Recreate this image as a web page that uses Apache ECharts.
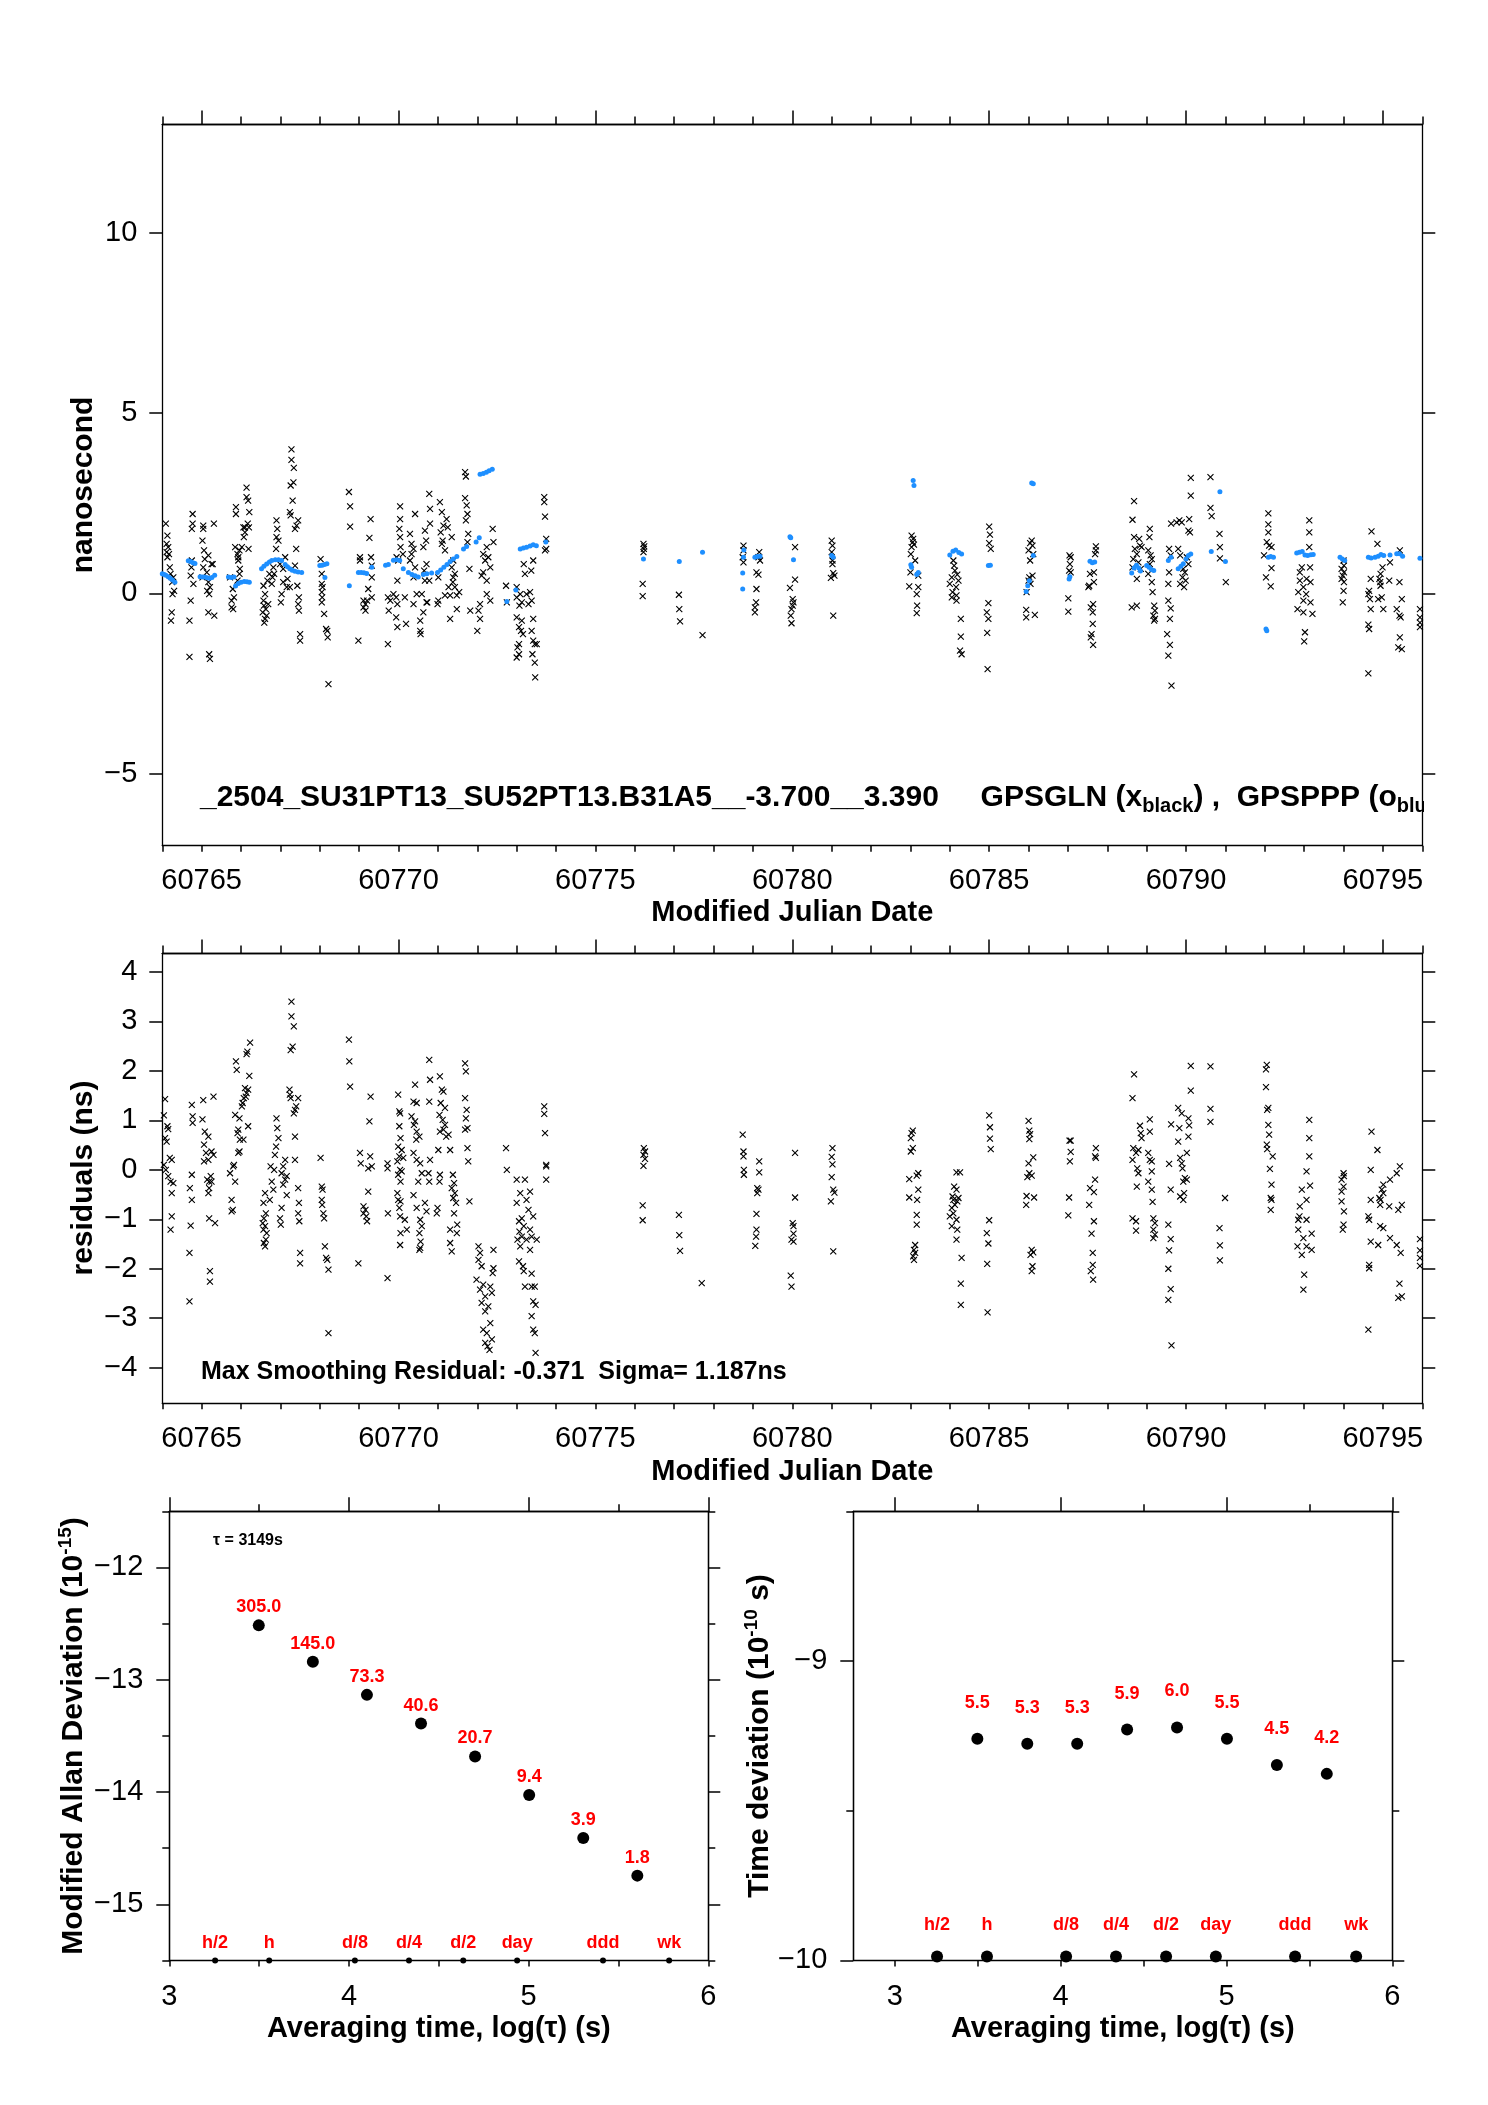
<!DOCTYPE html>
<html><head><meta charset="utf-8">
<script src="https://cdn.jsdelivr.net/npm/echarts@6/dist/echarts.min.js"></script>
<style>html,body{margin:0;padding:0;background:#fff}#c{width:1488px;height:2105px}</style>
</head><body><div id="c"></div>
<script>
// ---------------- DATA ----------------
const mjdLabels = [60765, 60770, 60775, 60780, 60785, 60790, 60795];
const topYLabels = [-5, 0, 5, 10];
const resYLabels = [-4, -3, -2, -1, 0, 1, 2, 3, 4];
const logTauLabels = [3, 4, 5, 6];
const adevYLabels = [-15, -14, -13, -12];
const tdevYLabels = [-10, -9];

// GPSGLN (black x) - nanosecond
const glnTop = [
[60764.09,1.93],[60764.13,1.60],[60764.11,1.37],[60764.15,1.28],[60764.11,1.14],[60764.17,1.09],[60764.13,1.00],[60764.19,0.72],[60764.21,0.54],[60764.28,0.44],[60764.25,0.31],[60764.30,0.07],[60764.26,-0.02],[60764.24,-0.53],[60764.22,-0.76],
[60764.77,2.20],[60764.77,1.93],[60764.75,1.79],[60764.75,0.91],[60764.74,0.72],[60764.72,0.49],[60764.79,0.26],[60764.72,-0.20],[60764.69,-0.76],[60764.69,-1.76],
[60765.04,1.88],[60765.04,1.79],[60765.02,1.46],[60765.06,1.19],[60765.17,1.05],[60765.08,0.95],[60765.25,0.81],[60765.04,0.72],[60765.13,0.58],[60765.02,0.44],[60765.17,0.31],[60765.21,0.17],[60765.14,0.07],[60765.19,-0.02],[60765.17,-0.53],[60765.19,-1.69],[60765.21,-1.82],[60765.31,1.93],[60765.28,0.81],[60765.32,-0.62],
[60765.76,-0.20],[60765.76,-0.39],[60765.72,0.44],[60765.79,0.12],[60765.87,2.39],[60765.87,2.20],[60765.85,1.28],[60765.91,1.09],[60765.93,0.91],[60765.82,-0.11],[60765.80,-0.44],[60765.96,1.19],[60765.93,1.00],[60765.97,0.68],[60765.96,0.54],[60765.91,0.35],[60766.06,1.83],[60766.10,1.69],[60766.07,1.56],[60766.14,2.93],[60766.14,2.67],[60766.18,2.57],[60766.21,2.25],[60766.17,1.93],[60766.20,1.83],[60766.19,1.23],[60766.10,1.83],[60766.02,1.28],
[60766.57,0.21],[60766.61,-0.02],[60766.57,-0.20],[60766.58,-0.34],[60766.63,-0.44],[60766.55,-0.53],[60766.65,-0.62],[60766.61,-0.71],[60766.59,-0.81],[60766.69,-0.30],[60766.67,0.35],[60766.72,0.54],
[60766.90,2.02],[60766.92,1.79],[60766.90,1.56],[60766.95,1.46],[60766.89,1.23],[60767.12,1.00],[60766.82,0.72],[60766.84,0.54],[60766.80,0.44],[60767.07,0.31],[60767.16,0.17],[60767.03,-0.02],[60767.01,-0.25],[60767.18,0.40],[60767.07,0.68],[60766.99,0.81],[60766.78,0.26],
[60767.28,3.99],[60767.28,3.70],[60767.34,3.48],[60767.33,3.08],[60767.26,2.99],[60767.31,2.57],[60767.24,2.25],[60767.26,2.16],[60767.37,1.79],[60767.37,0.77],[60767.24,0.17],
[60767.45,2.02],[60767.41,1.88],[60767.40,1.23],[60767.43,0.21],[60767.47,-0.11],[60767.45,-0.30],[60767.47,-0.48],[60767.50,-1.13],[60767.50,-1.31],
[60768.02,0.95],[60768.05,0.54],[60768.05,0.26],[60768.07,0.17],[60768.05,0.03],[60768.06,-0.11],[60768.05,-0.25],[60768.11,-0.57],[60768.16,-0.99],[60768.19,-1.04],[60768.20,-1.22],[60768.22,-2.52],
[60768.74,2.81],[60768.77,2.41],[60768.77,1.85],[60768.98,-1.31],[60769.29,2.06],[60769.26,1.54],[60769.02,1.00],[60769.30,1.00],[60769.02,0.91],[60769.32,0.77],[60769.32,0.44],[60769.23,0.12],[60769.32,-0.11],[60769.11,-0.20],[60769.16,-0.30],[60769.11,-0.39],[60769.16,-0.48],[60769.20,-0.20],
[60769.73,-0.11],[60769.75,-0.48],[60769.73,-1.41],[60770.04,2.41],[60770.04,2.06],[60770.02,1.79],[60770.04,1.56],[60770.05,1.28],[60770.11,1.09],[60769.95,1.00],[60769.99,0.91],[60769.97,0.35],[60769.87,-0.02],[60769.94,-0.11],[60769.79,-0.20],[60769.97,-0.30],[60769.94,-0.67],[60769.97,-0.94],[60770.16,-0.11],[60770.19,-0.85],
[60770.42,2.20],[60770.29,1.65],[60770.33,1.37],[60770.38,1.23],[60770.33,1.09],[60770.29,0.91],[60770.42,0.72],[60770.38,0.44],[60770.38,-0.30],[60770.55,-0.76],[60770.55,-1.04],[60770.56,-1.13],[60770.67,1.74],[60770.70,1.46],[60770.63,1.28],[60770.71,0.81],[60770.65,0.63],[60770.67,0.35],[60770.59,-0.02],[60770.71,-0.25],[60770.63,-0.53],[60770.46,-0.02],[60770.78,2.76],[60770.80,2.34],[60770.80,1.93],[60770.78,0.35],[60770.73,-0.25],
[60771.05,2.53],[60771.10,2.25],[60771.14,1.88],[60771.07,1.69],[60771.12,1.46],[60771.10,1.37],[60771.01,0.44],[60771.01,-0.20],[60770.99,-0.30],[60771.22,2.06],[60771.25,1.83],[60771.35,1.56],[60771.18,1.19],[60771.39,0.91],[60771.35,0.72],[60771.43,0.54],[60771.39,0.44],[60771.38,0.31],[60771.43,0.17],[60771.48,-0.06],[60771.27,0.17],[60771.31,-0.06],[60771.48,-0.44],[60771.31,-0.71],[60771.18,-0.06],[60771.54,0.03],
[60771.69,3.36],[60771.71,3.24],[60771.69,2.64],[60771.73,2.44],[60771.75,2.20],[60771.71,2.02],[60771.77,1.65],[60771.75,1.42],[60771.80,0.68],[60771.82,-0.48],[60772.39,1.79],[60772.41,1.42],[60772.24,1.28],[60772.15,1.09],[60772.28,1.00],[60772.20,0.91],[60772.33,0.72],[60772.15,0.58],[60772.11,0.49],[60772.24,0.35],[60772.33,-0.20],[60772.03,-0.48],[60772.07,-0.71],[60772.00,-1.04],[60772.07,-0.30],[60772.24,-0.02],
[60772.73,0.21],[60772.75,-0.25],
[60773.00,0.17],[60773.09,-0.02],[60773.00,-0.11],[60773.13,-0.25],[60773.07,-0.34],[60773.00,-0.67],[60773.13,-0.76],[60773.06,-0.94],[60773.11,-1.04],[60773.16,-1.13],[60773.06,-1.41],[60773.02,-1.50],[60773.06,-1.69],[60773.00,-1.78],[60773.21,0.54],[60773.25,-0.02],[60773.30,-0.30],[60773.18,0.81],[60773.42,0.91],[60773.37,0.63],[60773.34,0.03],[60773.38,-0.20],[60773.42,-0.71],[60773.38,-1.04],[60773.42,-1.31],[60773.46,-1.41],[60773.40,-1.69],[60773.46,-1.92],[60773.47,-2.33],[60773.51,-1.41],
[60773.70,2.67],[60773.70,2.53],[60773.72,2.13],[60773.75,1.51],[60773.75,1.23],[60773.72,1.19],
[60776.22,1.37],[60776.24,1.30],[60776.23,1.23],[60776.22,1.14],[60776.20,0.26],[60776.20,-0.08],
[60777.12,-0.04],[60777.13,-0.44],[60777.15,-0.78],[60777.72,-1.16],
[60778.76,1.32],[60778.76,1.19],[60778.74,1.00],[60778.76,0.86],
[60779.16,1.14],[60779.14,1.00],[60779.18,0.91],[60779.09,0.58],[60779.14,0.52],[60779.09,0.12],[60779.08,-0.25],[60779.05,-0.39],[60779.05,-0.53],
[60780.07,1.28],[60780.07,0.38],[60779.94,0.15],[60780.01,-0.16],[60780.03,-0.25],[60780.01,-0.34],[60779.98,-0.44],[60779.96,-0.62],[60779.98,-0.83],
[60781.00,1.46],[60781.02,1.32],[60781.00,1.14],[60781.02,0.91],[60781.02,0.81],[60781.04,0.56],[60781.07,0.49],[60780.98,0.43],[60781.04,-0.62],
[60783.03,1.60],[60783.07,1.51],[60783.06,1.42],[60783.09,1.35],[60783.03,1.28],[60783.01,1.09],[60783.12,0.91],[60783.00,0.58],[60783.20,0.49],[60782.97,0.19],[60783.20,0.17],[60783.16,-0.02],[60783.17,-0.34],[60783.16,-0.55],
[60784.09,0.91],[60784.11,0.77],[60784.13,0.63],[60784.19,0.52],[60784.05,0.44],[60784.22,0.35],[60784.00,0.26],[60784.16,0.17],[60784.07,0.03],[60784.17,-0.06],[60784.05,-0.11],[60784.17,-0.20],[60784.28,-0.71],[60784.28,-1.20],[60784.26,-1.59],[60784.30,-1.69],
[60785.00,1.85],[60785.02,1.63],[60785.00,1.39],[60785.04,1.23],[60784.98,-0.27],[60784.94,-0.53],[60784.98,-0.71],[60784.95,-1.10],[60784.96,-2.10],
[60786.08,1.46],[60786.04,1.39],[60786.10,1.32],[60786.00,1.19],[60786.12,1.09],[60786.04,0.91],[60786.10,0.49],[60786.02,0.44],[60786.00,0.35],[60786.05,0.26],[60785.95,0.03],[60785.94,-0.46],[60785.94,-0.67],[60786.16,-0.60],
[60787.04,1.05],[60787.07,1.00],[60787.05,0.81],[60787.03,0.63],[60787.07,0.58],[60787.01,-0.14],[60787.01,-0.51],
[60787.71,1.30],[60787.71,1.19],[60787.69,1.09],[60787.66,0.58],[60787.56,0.54],[60787.66,0.31],[60787.54,0.21],[60787.52,0.17],[60787.64,-0.30],[60787.58,-0.39],[60787.63,-0.53],[60787.63,-0.85],[60787.60,-1.13],[60787.58,-1.22],[60787.64,-1.43],
[60788.68,2.56],[60788.64,2.04],[60788.68,1.56],[60788.81,1.51],[60788.83,1.32],[60788.70,1.23],[60788.87,1.28],[60788.75,1.09],[60788.66,0.95],[60788.79,0.86],[60788.64,0.72],[60788.85,0.68],[60788.75,0.40],[60788.62,-0.39],[60788.75,-0.34],
[60789.08,1.79],[60789.07,1.56],[60789.04,1.19],[60789.10,1.05],[60789.13,0.95],[60789.08,0.81],[60789.04,0.54],[60789.13,0.31],[60789.15,0.03],[60789.19,-0.34],[60789.21,-0.48],[60789.17,-0.62],[60789.21,-0.71],[60789.19,-0.76],
[60789.62,1.93],[60789.57,1.23],[60789.61,1.05],[60789.57,0.58],[60789.55,0.26],[60789.55,-0.20],[60789.61,-0.42],[60789.59,-0.71],[60789.52,-1.13],[60789.59,-1.43],[60789.55,-1.73],[60789.63,-2.56],
[60790.12,3.20],[60790.12,2.71],[60790.08,2.06],[60789.83,2.02],[60789.76,1.97],[60789.89,1.97],[60790.06,1.74],[60790.10,1.69],[60789.80,1.23],[60789.85,1.05],[60790.02,1.00],[60790.06,0.81],[60789.93,0.68],[60789.97,0.58],[60789.91,0.44],[60789.99,0.35],[60789.85,0.26],[60789.95,0.17],
[60790.62,3.22],[60790.62,2.37],[60790.65,2.14],[60790.85,1.65],[60790.86,1.28],[60790.86,0.97],[60791.01,0.31],
[60792.09,2.22],[60792.09,1.91],[60792.09,1.69],[60792.05,1.42],[60792.11,1.32],[60792.17,1.28],[60791.98,1.05],[60792.17,0.70],[60792.03,0.44],[60792.15,0.19],
[60793.13,2.02],[60793.13,1.69],[60793.13,1.28],[60792.94,0.72],[60793.15,0.72],[60792.89,0.58],[60793.06,0.40],[60792.89,0.35],[60793.16,0.31],[60792.98,0.17],[60792.85,0.03],[60793.05,-0.02],[60792.98,-0.20],[60793.16,-0.25],[60792.83,-0.44],[60792.98,-0.53],[60793.21,-0.57],[60793.02,-1.08],[60793.00,-1.33],
[60794.00,0.91],[60794.01,0.77],[60793.95,0.68],[60794.01,0.58],[60793.98,0.49],[60793.95,0.40],[60794.01,0.31],[60794.00,0.07],[60793.98,-0.25],
[60794.71,1.72],[60794.86,1.37],[60794.69,0.40],[60794.65,0.07],[60794.63,-0.02],[60794.67,-0.16],[60794.69,-0.44],[60794.63,-0.87],[60794.65,-0.99],[60794.63,-2.22],[60794.99,0.72],[60794.94,0.54],[60794.91,0.40],[60794.93,0.31],[60794.94,0.21],[60794.97,-0.11],[60795.01,-0.44],[60794.88,-0.16],
[60795.43,1.19],[60795.18,0.86],[60795.16,0.35],[60795.42,0.31],[60795.48,-0.16],[60795.35,-0.44],[60795.42,-0.62],[60795.45,-0.67],[60795.43,-1.22],[60795.39,-1.50],[60795.48,-1.55],
[60795.94,-0.44],[60795.94,-0.67],[60795.94,-0.81],[60795.94,-0.94]
];

// GPSPPP (blue o) - nanosecond
const pppTop = [
[60764.00,0.54],[60764.05,0.52],[60764.09,0.50],[60764.15,0.46],[60764.20,0.42],[60764.26,0.37],[60764.32,0.31],
[60764.66,0.90],[60764.72,0.88],[60764.78,0.85],[60764.83,0.83],
[60764.96,0.46],[60765.02,0.45],[60765.08,0.45],[60765.14,0.43],[60765.20,0.42],[60765.26,0.44],[60765.33,0.50],
[60765.68,0.45],[60765.75,0.44],[60765.82,0.45],[60765.86,0.20],[60765.93,0.27],[60766.00,0.31],[60766.08,0.33],[60766.15,0.32],[60766.21,0.31],
[60766.52,0.68],[60766.58,0.75],[60766.65,0.81],[60766.72,0.87],[60766.78,0.91],[60766.87,0.93],[60766.95,0.93],[60767.03,0.91],[60767.12,0.80],[60767.18,0.74],[60767.24,0.68],[60767.30,0.64],[60767.37,0.61],[60767.45,0.59],[60767.54,0.58],
[60768.00,0.77],[60768.06,0.78],[60768.12,0.80],[60768.18,0.82],[60768.13,0.44],
[60768.75,0.21],[60768.98,0.58],[60769.05,0.58],[60769.12,0.57],[60769.19,0.55],[60769.32,0.72],
[60769.67,0.78],[60769.74,0.80],[60769.87,0.92],[60769.95,0.93],[60770.03,0.91],[60770.12,0.68],[60770.25,0.58],[60770.34,0.52],[60770.42,0.49],[60770.50,0.45],[60770.63,0.52],[60770.72,0.54],[60770.84,0.56],
[60770.99,0.58],[60771.07,0.65],[60771.15,0.72],[60771.23,0.80],[60771.31,0.88],[60771.39,0.95],[60771.48,1.02],
[60771.65,1.23],[60771.73,1.30],[60771.97,1.42],[60772.05,1.54],[60772.07,3.30],[60772.15,3.32],[60772.23,3.36],[60772.30,3.40],[60772.38,3.44],
[60772.75,-0.23],[60772.98,0.09],[60773.09,1.23],[60773.17,1.26],[60773.25,1.28],[60773.34,1.31],[60773.42,1.35],[60773.50,1.32],[60773.74,1.42],
[60776.22,0.95],[60777.13,0.88],[60777.72,1.14],[60778.77,1.20],[60778.76,1.00],[60778.74,0.56],[60778.74,0.12],
[60779.05,1.00],[60779.11,1.02],[60779.18,1.03],[60779.94,1.57],[60779.96,1.54],[60780.03,0.93],[60781.00,1.05],[60781.04,1.00],
[60783.07,3.13],[60783.09,2.99],[60783.01,0.79],[60783.03,0.72],[60783.16,0.52],[60783.20,0.58],
[60784.00,1.06],[60784.08,1.17],[60784.15,1.20],[60784.23,1.13],[60784.30,1.09],[60784.98,0.77],[60785.03,0.78],
[60786.08,3.06],[60786.12,3.04],[60786.12,1.05],[60785.94,0.05],[60785.98,0.21],[60786.02,0.35],
[60787.03,0.40],[60787.05,0.46],[60787.56,0.89],[60787.62,0.85],[60787.68,0.87],
[60788.62,0.56],[60788.68,0.70],[60788.74,0.78],[60788.80,0.70],[60788.84,0.62],[60789.00,0.77],[60789.06,0.72],[60789.12,0.66],[60789.18,0.63],
[60789.55,0.91],[60789.62,1.00],[60789.80,0.68],[60789.87,0.75],[60789.93,0.82],[60790.00,0.95],[60790.06,1.05],[60790.12,1.09],
[60790.86,2.82],[60790.64,1.16],[60791.00,0.88],[60792.03,-0.99],[60792.05,-1.04],[60792.09,1.00],[60792.15,1.02],[60792.22,1.00],
[60792.81,1.12],[60792.88,1.14],[60792.95,1.16],[60793.02,1.06],[60793.09,1.05],[60793.17,1.07],[60793.23,1.08],
[60793.91,1.00],[60793.97,0.95],[60794.03,0.91],
[60794.63,1.00],[60794.70,0.98],[60794.80,1.00],[60794.88,1.03],[60794.95,1.08],[60795.02,1.05],[60795.18,1.06],[60795.35,1.10],[60795.42,1.10],[60795.50,1.03],[60795.94,0.97]
];

// residuals (ns)
const residuals = [
[60764.07,1.43],[60764.04,1.10],[60764.13,0.88],[60764.15,0.82],[60764.07,0.64],[60764.11,0.57],[60764.19,0.24],[60764.24,0.20],[60764.04,0.10],[60764.09,0.00],[60764.15,-0.13],[60764.21,-0.24],[60764.28,-0.27],[60764.24,-0.47],[60764.24,-0.94],[60764.21,-1.21],
[60764.75,1.31],[60764.77,1.08],[60764.77,0.95],[60764.75,-0.10],[60764.70,-0.37],[60764.75,-0.61],[60764.72,-1.13],[60764.69,-1.68],[60764.69,-2.66],
[60765.04,1.41],[60765.02,1.02],[60765.08,0.77],[60765.06,0.51],[60765.17,0.67],[60765.11,0.34],[60765.17,0.20],[60765.06,0.17],[60765.14,-0.20],[60765.19,-0.24],[60765.17,-0.47],[60765.19,-0.98],[60765.34,-1.08],[60765.21,-2.05],[60765.21,-2.26],[60765.30,1.48],[60765.25,0.37],[60765.30,0.30],[60765.23,-0.13],[60765.25,-0.24],[60765.19,-0.37],
[60765.87,2.19],[60765.89,2.02],[60766.23,2.57],[60766.16,2.39],[60766.14,2.34],[60766.21,1.90],[60766.10,1.65],[60766.18,1.62],[60766.14,1.55],[60766.12,1.48],[60766.07,1.45],[60766.04,1.35],[60766.02,1.28],[60765.85,1.11],[60765.96,1.04],[60765.93,0.81],[60765.91,0.74],[60765.97,0.61],[60765.96,0.37],[60765.93,0.34],[60765.82,0.10],[60765.80,0.07],[60765.72,-0.07],[60765.85,-0.24],[60765.76,-0.61],[60765.79,-0.81],[60765.76,-0.84],[60766.18,0.88],[60766.06,0.61],
[60766.61,-0.47],[60766.57,-0.67],[60766.63,-0.88],[60766.58,-0.98],[60766.55,-1.08],[60766.61,-1.14],[60766.57,-1.21],[60766.65,-1.28],[60766.63,-1.41],[60766.58,-1.48],[60766.61,-1.55],
[60766.90,1.04],[60766.92,0.84],[60766.95,0.64],[60766.89,0.47],[60766.86,0.30],[60767.12,0.20],[60766.75,0.07],[60766.84,0.00],[60767.03,-0.07],[60766.78,-0.24],[60767.07,-0.30],[60766.82,-0.40],[60767.16,-0.51],[60766.73,-0.61],[60767.03,-0.77],[60766.99,-0.98],[60767.01,-1.11],[60767.12,-0.20],[60767.07,0.07],[60767.16,-0.13],
[60767.28,3.40],[60767.28,3.10],[60767.34,2.90],[60767.31,2.49],[60767.26,2.42],[60767.23,1.62],[60767.24,1.52],[60767.26,1.45],[60767.40,1.28],[60767.37,1.21],[60767.34,1.14],[60767.37,0.67],[60767.37,0.20],[60767.45,1.45],[60767.45,-0.37],[60767.47,-0.67],[60767.45,-0.88],[60767.48,-1.04],[60767.50,-1.68],[60767.50,-1.89],
[60768.02,0.24],[60768.05,-0.34],[60768.07,-0.40],[60768.05,-0.61],[60768.06,-0.71],[60768.09,-0.88],[60768.11,-0.98],[60768.13,-1.55],[60768.16,-1.78],[60768.19,-1.82],[60768.22,-2.02],[60768.22,-3.30],
[60768.74,2.63],[60768.75,2.19],[60768.77,1.68],[60768.98,-1.89],[60769.02,0.34],[60769.04,0.13],[60769.28,0.27],[60769.32,0.07],[60769.23,0.03],[60769.23,-0.44],[60769.11,-0.74],[60769.16,-0.81],[60769.11,-0.88],[60769.18,-0.94],[60769.20,-1.04],[60769.29,1.48],[60769.26,0.98],
[60769.72,0.13],[60769.72,0.03],[60769.73,-0.88],[60769.72,-2.19],[60769.99,1.52],[60770.02,1.18],[60770.04,1.14],[60770.02,0.88],[60770.05,0.64],[60769.99,0.47],[60770.08,0.40],[60770.02,0.27],[60770.12,0.24],[60769.97,0.17],[60770.04,0.00],[60770.08,-0.03],[60769.99,-0.10],[60770.05,-0.24],[60769.97,-0.47],[60769.99,-0.61],[60770.05,-0.64],[60770.02,-0.77],[60770.04,-0.94],[60770.05,-1.28],[60770.04,-1.52],[60770.21,-1.21],[60770.16,-1.01],
[60770.42,1.72],[60770.38,1.38],[60770.46,1.35],[60770.33,1.08],[60770.42,0.98],[60770.39,0.91],[60770.46,0.77],[60770.53,0.67],[60770.45,0.61],[60770.38,0.34],[60770.46,0.20],[60770.55,0.13],[60770.59,-0.07],[60770.50,-0.24],[60770.38,-0.51],[60770.67,-0.67],[60770.46,-0.77],[60770.55,-1.01],[60770.59,-1.14],[60770.53,-1.28],[60770.56,-1.45],[60770.55,-1.58],[60770.53,-1.62],[60770.78,2.22],[60770.80,1.82],[60770.78,1.38],[60770.80,0.20],[60770.76,-0.07],[60770.78,-0.24],[60770.71,-0.84],
[60771.05,1.89],[60771.10,1.62],[60771.14,1.58],[60771.07,1.35],[60771.18,1.25],[60771.04,1.11],[60771.12,1.01],[60771.18,0.91],[60771.14,0.81],[60771.05,0.77],[60771.21,0.67],[60771.01,0.40],[60771.05,-0.10],[60771.04,-0.24],[60770.99,-0.77],[60770.97,-0.88],[60771.27,0.71],[60771.31,0.40],[60771.38,-0.10],[60771.41,-0.27],[60771.35,-0.37],[60771.43,-0.47],[60771.39,-0.57],[60771.46,-0.67],[60771.41,-0.88],[60771.49,-1.11],[60771.31,-1.21],[60771.48,-1.28],[60771.31,-1.48],[60771.35,-1.65],
[60771.69,2.15],[60771.71,1.99],[60771.69,1.45],[60771.73,1.21],[60771.71,1.04],[60771.75,0.84],[60771.69,0.81],[60771.75,0.44],[60771.77,0.17],[60771.80,-0.64],
[60772.03,-1.55],[60772.07,-1.68],[60772.03,-1.82],[60772.11,-1.95],[60771.98,-2.22],[60772.15,-2.32],[60772.07,-2.42],[60772.20,-2.56],[60772.11,-2.69],[60772.28,-2.76],[60772.20,-2.86],[60772.33,-3.10],[60772.15,-3.23],[60772.24,-3.30],[60772.37,-3.43],[60772.20,-3.50],[60772.26,-3.57],[60772.31,-3.64],[60772.41,-1.62],[60772.41,-1.99],[60772.39,-2.09],[60772.33,-2.36],[60772.37,-2.49],
[60772.73,0.44],[60772.75,0.00],
[60773.00,-0.20],[60773.09,-0.47],[60773.00,-0.67],[60773.13,-0.98],[60773.06,-1.04],[60773.18,-1.14],[60773.07,-1.25],[60773.13,-1.35],[60773.02,-1.41],[60773.09,-1.55],[60773.06,-1.85],[60773.16,-1.95],[60773.18,-2.05],[60773.21,-2.36],[60773.38,-2.36],[60773.42,-2.66],[60773.48,-2.73],[60773.38,-2.96],[60773.42,-3.23],[60773.46,-3.30],[60773.48,-3.70],[60773.34,-1.62],[60773.38,-2.10],[60773.46,-2.36],[60773.30,-0.81],[60773.25,-0.61],[60773.21,-0.20],[60773.34,-0.44],[60773.42,-0.94],[60773.34,-1.21],[60773.25,-1.41],[60773.38,-1.35],[60773.51,-1.41],
[60773.70,1.28],[60773.70,1.13],[60773.72,0.74],[60773.75,0.10],[60773.75,0.07],[60773.75,-0.20],
[60776.23,0.44],[60776.26,0.37],[60776.22,0.30],[60776.26,0.22],[60776.22,0.08],[60776.20,-0.72],[60776.20,-1.02],
[60777.12,-0.91],[60777.13,-1.32],[60777.15,-1.64],[60777.70,-2.29],
[60778.74,0.71],[60778.76,0.37],[60778.76,0.27],[60778.77,0.00],[60778.77,-0.10],[60779.16,0.17],[60779.16,-0.05],[60779.11,-0.37],[60779.14,-0.40],[60779.11,-0.47],[60779.09,-0.89],[60779.09,-1.21],[60779.08,-1.35],[60779.06,-1.54],
[60780.07,0.34],[60780.07,-0.56],[60780.01,-1.08],[60780.03,-1.14],[60780.03,-1.29],[60779.98,-1.41],[60780.03,-1.45],[60779.96,-2.14],[60779.98,-2.36],
[60781.02,0.44],[60781.00,0.26],[60781.02,0.11],[60781.00,-0.15],[60781.04,-0.40],[60781.07,-0.46],[60780.98,-0.64],[60781.04,-1.65],
[60783.06,0.79],[60783.03,0.74],[60783.01,0.64],[60783.06,0.44],[60783.01,0.37],[60783.20,-0.07],[60783.16,-0.12],[60782.97,-0.19],[60783.20,-0.40],[60782.97,-0.56],[60783.17,-0.61],[60783.16,-0.91],[60783.16,-1.11],[60783.12,-1.52],[60783.09,-1.62],[60783.12,-1.68],[60783.07,-1.75],[60783.09,-1.82],
[60784.17,-0.05],[60784.26,-0.05],[60784.11,-0.34],[60784.17,-0.40],[60784.07,-0.54],[60784.22,-0.57],[60784.09,-0.61],[60784.19,-0.64],[60784.13,-0.71],[60784.05,-0.77],[60784.09,-0.88],[60784.00,-0.94],[60784.17,-1.01],[60784.05,-1.14],[60784.19,-1.21],[60784.17,-1.41],[60784.30,-1.78],[60784.28,-2.30],[60784.28,-2.73],
[60785.00,1.10],[60785.02,0.86],[60785.02,0.63],[60785.04,0.42],[60785.00,-1.02],[60784.94,-1.28],[60784.98,-1.49],[60784.95,-1.90],[60784.96,-2.88],
[60786.00,0.99],[60786.02,0.79],[60786.04,0.72],[60786.02,0.62],[60786.12,0.25],[60786.00,0.13],[60786.02,-0.07],[60786.08,-0.12],[60785.97,-0.15],[60785.95,-0.53],[60786.14,-0.56],[60785.94,-0.71],[60786.08,-1.62],[60786.12,-1.67],[60786.05,-1.72],[60786.10,-1.95],[60786.08,-2.05],
[60787.04,0.59],[60787.07,0.59],[60787.07,0.36],[60787.05,0.17],[60787.03,-0.56],[60787.01,-0.92],
[60787.71,0.44],[60787.69,0.27],[60787.71,0.24],[60787.69,-0.20],[60787.56,-0.37],[60787.66,-0.45],[60787.54,-0.71],[60787.66,-1.04],[60787.60,-1.29],[60787.63,-1.68],[60787.63,-1.92],[60787.58,-2.05],[60787.64,-2.22],
[60788.68,1.93],[60788.64,1.45],[60788.83,0.89],[60788.85,0.74],[60788.66,0.44],[60788.79,0.40],[60788.73,0.34],[60788.64,0.20],[60788.76,0.03],[60788.79,-0.07],[60788.75,-0.34],[60788.64,-0.98],[60788.73,-1.04],[60788.73,-1.23],
[60789.08,1.02],[60789.08,0.77],[60788.87,0.64],[60789.04,0.34],[60789.08,0.20],[60789.13,0.17],[60789.13,-0.03],[60789.04,-0.24],[60789.13,-0.40],[60789.15,-0.65],[60789.17,-0.98],[60789.21,-1.08],[60789.17,-1.21],[60789.21,-1.31],[60789.17,-1.38],
[60789.62,0.92],[60789.57,0.12],[60789.61,-0.40],[60789.55,-1.11],[60789.61,-1.40],[60789.57,-1.63],[60789.55,-2.00],[60789.61,-2.41],[60789.55,-2.63],[60789.63,-3.55],
[60790.12,2.10],[60790.12,1.60],[60789.80,1.25],[60789.89,1.14],[60790.06,1.04],[60790.08,0.90],[60789.83,0.84],[60790.06,0.67],[60789.80,0.57],[60790.02,0.34],[60789.85,0.24],[60789.89,0.13],[60789.91,0.03],[60789.97,-0.17],[60790.02,-0.20],[60789.93,-0.24],[60789.95,-0.47],[60789.85,-0.54],[60789.93,-0.61],
[60790.62,2.09],[60790.62,1.23],[60790.62,0.97],[60790.99,-0.57],[60790.85,-1.18],[60790.86,-1.53],[60790.86,-1.83],
[60792.05,2.12],[60792.03,2.03],[60792.03,1.67],[60792.09,1.25],[60792.06,1.21],[60792.09,0.91],[60792.11,0.71],[60792.05,0.51],[60792.06,0.42],[60792.20,0.27],[60792.13,0.02],[60792.17,-0.30],[60792.15,-0.57],[60792.17,-0.61],[60792.15,-0.81],
[60793.13,1.01],[60793.13,0.64],[60793.13,0.27],[60793.06,-0.03],[60793.15,-0.32],[60792.94,-0.40],[60793.06,-0.61],[60792.89,-0.74],[60792.88,-0.94],[60792.85,-1.01],[60793.06,-1.01],[60792.85,-1.21],[60793.19,-1.29],[60792.98,-1.38],[60792.83,-1.55],[60793.06,-1.55],[60793.19,-1.62],[60792.94,-1.72],[60793.00,-2.12],[60792.98,-2.42],
[60794.00,-0.07],[60794.01,-0.13],[60793.95,-0.20],[60794.00,-0.34],[60793.95,-0.44],[60793.95,-0.64],[60794.01,-0.84],[60794.00,-1.11],[60793.98,-1.21],
[60794.71,0.77],[60794.86,0.40],[60794.69,0.00],[60794.69,-0.61],[60794.63,-0.94],[60794.65,-1.01],[60794.69,-1.45],[60794.65,-1.92],[60794.65,-1.99],[60794.63,-3.23],
[60795.43,0.07],[60795.35,-0.07],[60795.18,-0.20],[60795.01,-0.30],[60794.97,-0.40],[60795.01,-0.47],[60794.91,-0.57],[60794.94,-0.61],[60794.93,-0.71],[60795.16,-0.74],[60795.39,-0.81],[60794.93,-1.14],[60795.01,-1.18],[60795.18,-1.38],[60795.35,-1.52],[60794.88,-1.52],[60795.45,-1.68],[60795.42,-2.30],[60795.39,-2.59],[60795.48,-2.56],[60795.48,-0.71],
[60795.94,-1.40],[60795.94,-1.63],[60795.94,-1.78],[60795.94,-1.94]
];

// Stability (log10 tau)
const logTau = [3.498, 3.799, 4.100, 4.401, 4.702, 5.003, 5.304, 5.605];
const adevY = [-12.516, -12.839, -13.135, -13.391, -13.684, -14.027, -14.409, -14.745];
const adevLbl = ['305.0', '145.0', '73.3', '40.6', '20.7', '9.4', '3.9', '1.8'];
const tdevY = [-9.260, -9.276, -9.276, -9.229, -9.222, -9.260, -9.347, -9.377];
const tdevLbl = ['5.5', '5.3', '5.3', '5.9', '6.0', '5.5', '4.5', '4.2'];
const markX = [3.255, 3.556, 4.033, 4.334, 4.636, 4.936, 5.414, 5.782];
const markLbl = ['h/2', 'h', 'd/8', 'd/4', 'd/2', 'day', 'ddd', 'wk'];
const markYadev = -15.5;
const markYtdev = -9.987;

// ---------------- CHART ----------------
const FONT = "'Liberation Sans', Arial, Helvetica, sans-serif";
const chart = echarts.init(document.getElementById('c'), null, {renderer: 'canvas'});
const minus = v => String(v).replace('-', '\u2212');
const range = (a, b, s) => { const r = []; for (let v = a; v <= b + 1e-9; v += s) r.push(+v.toFixed(4)); return r; };

function ax(kind, grid, pos, min, max, ticks, len, labels, margin) {
  return {
    type: 'value', gridIndex: grid, position: pos, min: min, max: max,
    splitLine: {show: false},
    axisLine: {show: true, onZero: false, lineStyle: {color: '#000', width: 1.3}},
    axisTick: {show: true, inside: false, length: len, customValues: ticks, lineStyle: {color: '#000', width: 1.5}},
    axisLabel: labels ? {show: true, customValues: labels, margin: margin, color: '#000',
      fontFamily: FONT, fontSize: 29, formatter: minus} : {show: false}
  };
}
const days = range(60764, 60796, 1);
const xAxes = [
  ax('x', 0, 'bottom', 60764, 60796, days, 6, mjdLabels, 21),
  ax('x', 0, 'top', 60764, 60796, mjdLabels, 14),
  ax('x', 0, 'top', 60764, 60796, days, 8),
  ax('x', 1, 'bottom', 60764, 60796, days, 6, mjdLabels, 21),
  ax('x', 1, 'top', 60764, 60796, mjdLabels, 14),
  ax('x', 1, 'top', 60764, 60796, days, 8),
  ax('x', 2, 'bottom', 3, 6, range(3, 6, 0.5), 6, logTauLabels, 22),
  ax('x', 2, 'top', 3, 6, logTauLabels, 14),
  ax('x', 2, 'top', 3, 6, [3.5, 4.5, 5.5], 7),
  ax('x', 3, 'bottom', 2.75, 6, range(3, 6, 0.5), 6, logTauLabels, 22),
  ax('x', 3, 'top', 2.75, 6, logTauLabels, 14),
  ax('x', 3, 'top', 2.75, 6, [3.5, 4.5, 5.5], 7)
];
const yAxes = [
  ax('y', 0, 'left', -7, 13, topYLabels, 13, topYLabels, 25),
  ax('y', 0, 'right', -7, 13, topYLabels, 13),
  ax('y', 1, 'left', -4.72, 4.37, resYLabels, 13, resYLabels, 25),
  ax('y', 1, 'right', -4.72, 4.37, resYLabels, 13),
  ax('y', 2, 'left', -15.5, -11.5, adevYLabels, 13, adevYLabels, 26),
  ax('y', 2, 'left', -15.5, -11.5, [-15.5, -14.5, -13.5, -12.5, -11.5], 7),
  ax('y', 2, 'right', -15.5, -11.5, adevYLabels, 12),
  ax('y', 2, 'right', -15.5, -11.5, [-15.5, -14.5, -13.5, -12.5, -11.5], 7),
  ax('y', 3, 'left', -10, -8.5, tdevYLabels, 13, tdevYLabels, 26),
  ax('y', 3, 'left', -10, -8.5, [-9.5, -8.5], 7),
  ax('y', 3, 'right', -10, -8.5, tdevYLabels, 12),
  ax('y', 3, 'right', -10, -8.5, [-9.5, -8.5], 7)
];

const cross = 'path://M0 0 L10 10 M10 0 L0 10';
const crossStyle = {color: 'rgba(0,0,0,0)', borderColor: '#000', borderWidth: 1.1, opacity: 1};
const redLabel = (arr, dist) => ({show: true, position: 'top', distance: dist, color: '#ff0000', opacity: 1,
  fontFamily: FONT, fontWeight: 'bold', fontSize: 18, formatter: p => arr[p.dataIndex]});

const series = [
  {type: 'scatter', xAxisIndex: 0, yAxisIndex: 0, data: glnTop, symbol: cross, symbolSize: 6, itemStyle: crossStyle, silent: true},
  {type: 'scatter', xAxisIndex: 0, yAxisIndex: 0, data: pppTop, symbol: 'circle', symbolSize: 5, itemStyle: {color: '#1e8fff', opacity: 1}, silent: true},
  {type: 'scatter', xAxisIndex: 3, yAxisIndex: 2, data: residuals, symbol: cross, symbolSize: 6, itemStyle: crossStyle, silent: true},
  {type: 'scatter', xAxisIndex: 6, yAxisIndex: 4, data: logTau.map((x, i) => [x, adevY[i]]), symbol: 'circle', symbolSize: 12,
    itemStyle: {color: '#000', opacity: 1}, label: redLabel(adevLbl, 3), silent: true},
  {type: 'scatter', xAxisIndex: 6, yAxisIndex: 4, clip: false, data: markX.map(x => [x, markYadev]), symbol: 'circle', symbolSize: 6,
    itemStyle: {color: '#000', opacity: 1}, label: redLabel(markLbl, 5), silent: true},
  {type: 'scatter', xAxisIndex: 9, yAxisIndex: 8, data: logTau.map((x, i) => [x, tdevY[i]]), symbol: 'circle', symbolSize: 12,
    itemStyle: {color: '#000', opacity: 1}, label: redLabel(tdevLbl, 21), silent: true},
  {type: 'scatter', xAxisIndex: 9, yAxisIndex: 8, clip: false, data: markX.map(x => [x, markYtdev]), symbol: 'circle', symbolSize: 12,
    itemStyle: {color: '#000', opacity: 1}, label: redLabel(markLbl, 16), silent: true}
];

const bold = s => 'bold ' + s + 'px ' + FONT;
const txt = (x, y, text, size, opt) => Object.assign({type: 'text', x: x, y: y, z: 50,
  style: {text: text, font: bold(size), fill: '#000', align: 'center', verticalAlign: 'middle'}}, opt || {});

const graphic = [
  {type: 'text', x: 200, y: 798, z: 50, style: {
    text: '{a|_2504_SU31PT13_SU52PT13.B31A5__-3.700__3.390     GPSGLN (x}{s|black}{a|) ,  GPSPPP (o}{s|blue}{a|) )}',
    align: 'left', verticalAlign: 'middle', fill: '#000',
    rich: {a: {font: bold(30), lineHeight: 36, fill: '#000'}, s: {font: bold(20), lineHeight: 22, verticalAlign: 'bottom', fill: '#000'}}}},
  {type: 'rect', z: 60, shape: {x: 1424, y: 778, width: 64, height: 50}, style: {fill: '#fff'}},
  txt(792.3, 913, 'Modified Julian Date', 29),
  txt(792.3, 1472, 'Modified Julian Date', 29),
  txt(83.5, 485, 'nanosecond', 30, {rotation: Math.PI / 2}),
  txt(83.5, 1178, 'residuals (ns)', 30, {rotation: Math.PI / 2}),
  {type: 'text', x: 201, y: 1372, z: 50, style: {text: 'Max Smoothing Residual: -0.371  Sigma= 1.187ns', font: bold(25),
    fill: '#000', align: 'left', verticalAlign: 'middle'}},
  {type: 'text', x: 213, y: 1541, z: 50, style: {text: '\u03c4 = 3149s', font: bold(16), fill: '#000', align: 'left', verticalAlign: 'middle'}},
  {type: 'text', x: 74, y: 1736, z: 50, rotation: Math.PI / 2, style: {
    text: '{a|Modified Allan Deviation (10}{s|-15}{a|)}', align: 'center', verticalAlign: 'middle', fill: '#000',
    rich: {a: {font: bold(30), lineHeight: 36, fill: '#000'}, s: {font: bold(19), lineHeight: 20, verticalAlign: 'top', fill: '#000'}}}},
  {type: 'text', x: 760, y: 1736, z: 50, rotation: Math.PI / 2, style: {
    text: '{a|Time deviation (10}{s|-10}{a| s)}', align: 'center', verticalAlign: 'middle', fill: '#000',
    rich: {a: {font: bold(30), lineHeight: 36, fill: '#000'}, s: {font: bold(19), lineHeight: 20, verticalAlign: 'top', fill: '#000'}}}},
  txt(438.8, 2029, 'Averaging time, log(\u03c4) (s)', 29),
  txt(1122.8, 2029, 'Averaging time, log(\u03c4) (s)', 29)
];

chart.setOption({
  animation: false,
  backgroundColor: '#fff',
  grid: [
    {left: 162.3, top: 124.6, width: 1260, height: 721.1},
    {left: 162.3, top: 953.6, width: 1260, height: 449.7},
    {left: 169.3, top: 1511.3, width: 539, height: 449.1},
    {left: 853.3, top: 1511.3, width: 539, height: 449.1}
  ],
  xAxis: xAxes,
  yAxis: yAxes,
  series: series,
  graphic: graphic
});
</script></body></html>
